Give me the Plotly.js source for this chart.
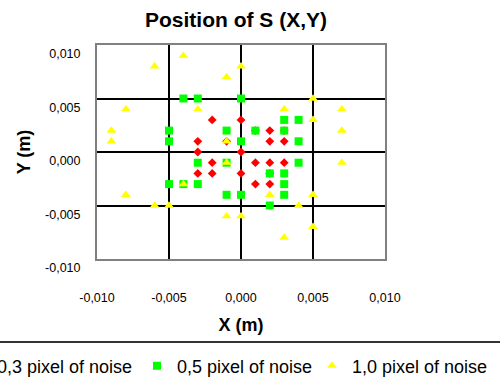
<!DOCTYPE html>
<html><head><meta charset="utf-8">
<script src="https://cdn.plot.ly/plotly-3.0.1.min.js"></script>
<style>html,body{margin:0;padding:0;background:#fff;overflow:hidden;width:500px;height:383px;}#chart{width:543px;height:383px;margin-left:-43px;}</style>
</head><body><div id="chart"></div>
<script>
const seriesNames = ['0,3 pixel of noise', '0,5 pixel of noise', '1,0 pixel of noise'];

const red_x = [-0.002, 0, -0.003, -0.001, 0.002, 0.003, 0.001, 0.002, 0.003, -0.003, 0, -0.002, 0.001, 0.002, 0.003, -0.003, -0.002, 0, 0.002, 0.001, 0.002];
const red_y = [0.003, 0.003, 0.001, 0.001, 0.001, 0.001, 0.002, 0.002, 0.002, 0, 0, -0.001, -0.001, -0.001, -0.001, -0.002, -0.002, -0.002, -0.002, -0.003, -0.003];

const green_x = [-0.004, -0.003, 0, 0.003, 0.004, -0.005, -0.001, 0.001, 0.003, -0.005, 0, 0.004, -0.003, -0.001, 0.004, 0.002, 0.003, -0.005, -0.004, -0.003, 0.003, -0.001, 0, 0.003, 0.002];
const green_y = [0.005, 0.005, 0.005, 0.003, 0.003, 0.002, 0.002, 0.002, 0.002, 0.001, 0.001, 0.001, -0.001, -0.001, -0.001, -0.002, -0.002, -0.003, -0.003, -0.003, -0.003, -0.004, -0.004, -0.004, -0.005];

const yellow_x = [-0.004, -0.006, 0, -0.001, 0.005, -0.008, -0.003, 0.003, 0.007, 0.005, -0.009, 0.007, -0.009, -0.001, -0.001, 0.007, -0.004, -0.008, 0.002, 0.005, -0.006, -0.005, 0.004, -0.001, 0, 0.005, 0.003];
const yellow_y = [0.009, 0.008, 0.008, 0.007, 0.005, 0.004, 0.004, 0.004, 0.004, 0.003, 0.002, 0.002, 0.001, 0.001, -0.001, -0.001, -0.003, -0.004, -0.004, -0.004, -0.005, -0.005, -0.005, -0.006, -0.006, -0.007, -0.008];

const tickVals = [-0.010, -0.005, 0, 0.005, 0.010];
const tickText = ['-0,010', '-0,005', '0,000', '0,005', '0,010'];

const FONT = 'Liberation Sans, Arial, sans-serif';

const traces = [
  {x: red_x, y: red_y, name: seriesNames[0], type: 'scatter', mode: 'markers', legend: 'legend',
   marker: {symbol: 'diamond', size: 6.8, color: '#FF0000'}},
  {x: green_x, y: green_y, name: seriesNames[1], type: 'scatter', mode: 'markers', legend: 'legend2',
   marker: {symbol: 'square', size: 8, color: '#00FF00'}},
  {x: yellow_x, y: yellow_y, name: seriesNames[2], type: 'scatter', mode: 'markers', legend: 'legend3',
   marker: {symbol: 'triangle-up', size: 8.6, color: '#FFFF00'}}
];

const axisCommon = {
  range: [-0.010, 0.010], tickvals: tickVals, ticktext: tickText,
  showgrid: true, gridcolor: '#000000', gridwidth: 2, zeroline: false,
  showline: true, mirror: true, linecolor: '#808080', linewidth: 2,
  ticks: '', tickfont: {family: FONT, size: 12.5, color: '#000'}
};

const legendCommon = {
  orientation: 'h', xref: 'container', yref: 'container', y: 0.0444, yanchor: 'middle',
  xanchor: 'left', borderwidth: 0, bgcolor: 'rgba(0,0,0,0)',
  font: {family: FONT, size: 18, color: '#000'}
};

const layout = {
  width: 543, height: 383,
  margin: {l: 140, r: 115, t: 45, b: 124},
  paper_bgcolor: '#ffffff', plot_bgcolor: '#ffffff',
  font: {family: FONT, color: '#000'},
  title: {text: '<b>Position of S (X,Y)</b>', font: {family: FONT, size: 21, color: '#000'},
          xref: 'container', x: 0.5138, xanchor: 'center', yref: 'container', y: 0.948, yanchor: 'middle'},
  xaxis: Object.assign({}, axisCommon, {
    ticklabelstandoff: 26,
    title: {text: '<b>X (m)</b>', font: {family: FONT, size: 18, color: '#000'}, standoff: 14}
  }),
  yaxis: Object.assign({}, axisCommon, {
    ticklabelposition: 'outside bottom', ticklabelstandoff: 12,
    title: {text: '<b>Y (m)</b>', font: {family: FONT, size: 18, color: '#000'}, standoff: 10}
  }),
  showlegend: true,
  legend: Object.assign({}, legendCommon, {x: 0}),
  legend2: Object.assign({}, legendCommon, {x: 0.3315}),
  legend3: Object.assign({}, legendCommon, {x: 0.6538}),
  shapes: [
    {type: 'line', xref: 'paper', yref: 'paper', x0: -0.6, x1: 1.5, y0: -0.388, y1: -0.388,
     line: {color: '#333333', width: 2}}
  ]
};

Plotly.newPlot('chart', traces, layout, {staticPlot: true, displayModeBar: false});
</script>
</body></html>
